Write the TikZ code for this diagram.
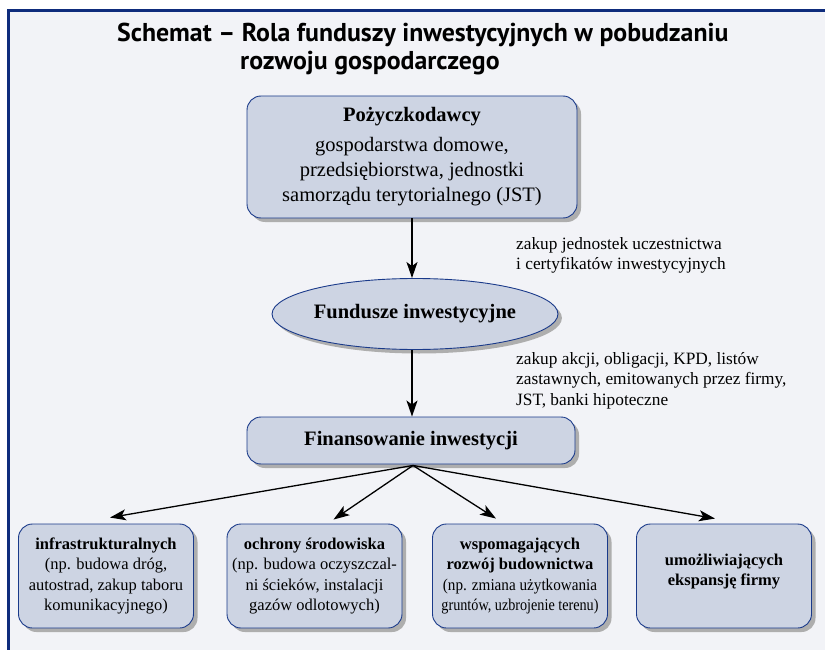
\documentclass[tikz,border=0pt]{standalone}
\usepackage{fontspec}
\setmainfont{Liberation Serif}
\newfontfamily\titlefont{PT Sans}
\usetikzlibrary{shapes.geometric,shadows,arrows.meta,calc}
\definecolor{bg}{HTML}{F2F3F7}
\definecolor{boxfill}{HTML}{CDD4E3}
\definecolor{boxedge}{HTML}{1A3A8A}
\definecolor{framecol}{HTML}{0E2C7C}
\definecolor{shade}{HTML}{AEAEAE}
\tikzset{
  shad/.style={drop shadow={shadow xshift=4pt, shadow yshift=-4pt, fill=shade, opacity=1}},
  rbox/.style={draw=boxedge, fill=boxfill, rounded corners=14pt, line width=0.9pt, align=center, shad, inner sep=0pt},
  ebox/.style={ellipse, draw=boxedge, fill=boxfill, line width=0.9pt, shad, inner sep=0pt, align=center},
  arr/.style={-{Stealth[length=16pt,width=11pt,inset=4pt]}, line width=1.3pt},
  lbl/.style={align=left, anchor=north west, font=\fontsize{17.3}{20.5}\selectfont, inner sep=0pt},
  ttl/.style={font=\titlefont\bfseries\fontsize{25.8}{30}\selectfont, inner sep=0pt},
  small/.style={font=\fontsize{16.5}{20.5}\selectfont},
}
\begin{document}
\begin{tikzpicture}[x=1pt,y=-1pt]
\clip (0,0) rectangle (825,650);
\useasboundingbox (0,0) rectangle (825,650);
\fill[white] (0,0) rectangle (825,650);
\draw[framecol, line width=2.5pt, fill=bg] (8.5,10.5) rectangle (840,670);

\node[ttl, anchor=west] (t1) at (117,35) {Schemat – Rola funduszy inwestycyjnych w pobudzaniu};
\node[ttl, anchor=west] (t2) at (240,63) {rozwoju gospodarczego};

\node[rbox, minimum width=330pt, minimum height=122pt, font=\fontsize{20.5}{25}\selectfont] (lend) at (412,157)
  {\textbf{Pożyczkodawcy}\\[5pt] gospodarstwa domowe,\\ przedsiębiorstwa, jednostki\\ samorządu terytorialnego (JST)};

\node[ebox, minimum width=261pt, minimum height=71pt, font=\fontsize{20.5}{24}\selectfont\bfseries] (fund) at (415,314) {Fundusze inwestycyjne};

\node[rbox, minimum width=328pt, minimum height=47pt, font=\fontsize{20.5}{24}\selectfont\bfseries] (fin) at (411,440.5) {Finansowanie inwestycji};

\node[lbl] (l1) at (516,237) {zakup jednostek uczestnictwa\\ i certyfikatów inwestycyjnych};
\node[lbl] (l2) at (516,352) {zakup akcji, obligacji, KPD, listów\\ zastawnych, emitowanych przez firmy,\\ JST, banki hipoteczne};

\node[rbox, small, minimum width=175pt, minimum height=104pt] (b1) at (106,576)
  {\textbf{infrastrukturalnych}\\ (np. budowa dróg,\\ autostrad, zakup taboru\\ komunikacyjnego)};
\node[rbox, small, minimum width=175pt, minimum height=104pt] (b2) at (314.5,576)
  {\textbf{ochrony środowiska}\\ (np. budowa oczyszczal-\\ ni ścieków, instalacji\\ gazów odlotowych)};
\node[rbox, small, minimum width=175pt, minimum height=104pt] (b3) at (520,576)
  {\textbf{wspomagających}\\ \textbf{rozwój budownictwa}\\ \scalebox{0.92}[1]{(np. zmiana użytkowania}\\ \scalebox{0.86}[1]{gruntów, uzbrojenie terenu)}};
\node[rbox, small, minimum width=175pt, minimum height=104pt] (b4) at (724,576)
  {\textbf{umożliwiających}\\ \textbf{ekspansję firmy}\rule[-12pt]{0pt}{1pt}};

\draw[arr] (lend.south) -- (lend.south |- fund.north);
\draw[arr] (fund.south -| lend.south) -- (lend.south |- fin.north);

\coordinate (s) at ($(fin.south)+(2,1)$);
\coordinate (e1) at ($(b1.north)+(4,-6)$);
\coordinate (e2) at ($(b2.north)+(19,-4)$);
\coordinate (e3) at ($(b3.north)+(-24,-5)$);
\coordinate (e4) at ($(b4.north)+(-9,-5)$);
\foreach \e in {e1,e2,e3,e4} \draw[arr] (s) -- (\e);
\end{tikzpicture}
\end{document}
